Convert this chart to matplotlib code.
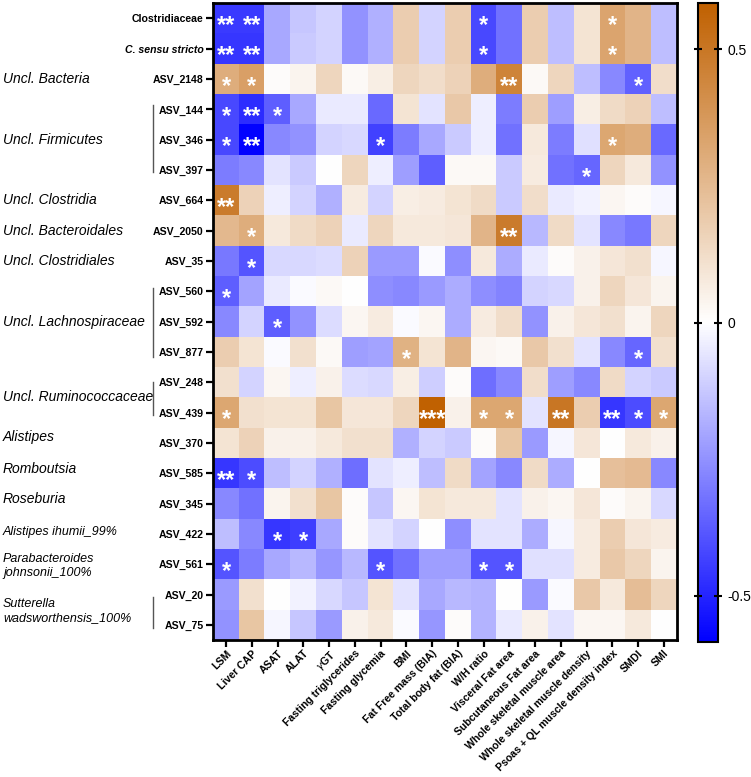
import numpy as np
import matplotlib
matplotlib.use('Agg')
import matplotlib.pyplot as plt
from matplotlib.colors import LinearSegmentedColormap
from matplotlib.transforms import blended_transform_factory

plt.rcParams['font.family'] = ['Liberation Sans', 'DejaVu Sans']

# heatmap rows (taxa / ASVs) and columns (clinical parameters)
rows = ['Clostridiaceae', 'C. sensu stricto', 'ASV_2148', 'ASV_144', 'ASV_346',
        'ASV_397', 'ASV_664', 'ASV_2050', 'ASV_35', 'ASV_560', 'ASV_592',
        'ASV_877', 'ASV_248', 'ASV_439', 'ASV_370', 'ASV_585', 'ASV_345',
        'ASV_422', 'ASV_561', 'ASV_20', 'ASV_75']

columns = ['LSM', 'Liver CAP', 'ASAT', 'ALAT', r'$\gamma$GT',
           'Fasting triglycerides', 'Fasting glycemia', 'BMI',
           'Fat Free mass (BIA)', 'Total body fat (BIA)', 'W/H ratio',
           'Visceral Fat area', 'Subcutaneous Fat area',
           'Whole skeletal muscle area', 'Whole skeletal muscle density',
           'Psoas + QL muscle density index', 'SMDI', 'SMI']

# correlation coefficients, one list per row
rho = [
    [-0.45, -0.45, -0.20, -0.13, -0.10, -0.25, -0.18, 0.18, -0.10, 0.18, -0.42, -0.32, 0.18, -0.15, 0.10, 0.33, 0.27, -0.15],
    [-0.46, -0.46, -0.20, -0.12, -0.10, -0.25, -0.18, 0.18, -0.10, 0.18, -0.42, -0.32, 0.18, -0.15, 0.10, 0.33, 0.27, -0.15],
    [0.30, 0.35, 0.01, 0.04, 0.15, 0.02, 0.06, 0.15, 0.12, 0.16, 0.30, 0.45, 0.02, 0.15, -0.15, -0.27, -0.36, 0.12],
    [-0.42, -0.48, -0.37, -0.20, -0.05, -0.05, -0.34, 0.10, -0.06, 0.20, -0.04, -0.30, 0.18, -0.22, 0.06, 0.13, 0.16, -0.15],
    [-0.42, -0.58, -0.27, -0.25, -0.10, -0.09, -0.43, -0.30, -0.20, -0.12, -0.04, -0.32, 0.08, -0.30, -0.07, 0.32, 0.30, -0.34],
    [-0.30, -0.27, -0.06, -0.12, 0.00, 0.15, -0.04, -0.22, -0.37, 0.02, 0.02, -0.12, 0.07, -0.32, -0.35, 0.15, 0.08, -0.25],
    [0.48, 0.16, -0.04, -0.10, -0.18, 0.07, -0.10, 0.06, 0.07, 0.10, 0.13, -0.12, 0.12, -0.05, -0.03, 0.03, 0.01, -0.02],
    [0.26, 0.30, 0.08, 0.13, 0.16, -0.05, 0.15, 0.08, 0.08, 0.09, 0.27, 0.48, -0.16, 0.13, -0.06, -0.27, -0.31, 0.15],
    [-0.31, -0.39, -0.09, -0.09, -0.08, 0.16, -0.23, -0.23, -0.01, -0.26, 0.08, -0.19, -0.05, 0.01, 0.05, 0.09, 0.11, -0.02],
    [-0.37, -0.21, -0.05, -0.01, 0.02, 0.00, -0.26, -0.27, -0.23, -0.19, -0.26, -0.28, -0.10, -0.09, 0.05, 0.15, 0.09, 0.04],
    [-0.27, -0.10, -0.37, -0.25, -0.08, 0.03, 0.07, -0.01, 0.03, -0.19, 0.07, 0.12, -0.25, 0.05, 0.09, 0.11, 0.04, 0.15],
    [0.18, 0.10, -0.01, 0.11, 0.02, -0.22, -0.21, 0.28, 0.10, 0.27, 0.03, 0.02, 0.20, 0.11, -0.06, -0.27, -0.35, 0.11],
    [0.11, -0.10, 0.03, -0.04, 0.05, -0.08, -0.09, 0.06, -0.11, 0.01, -0.33, -0.27, 0.12, -0.22, -0.27, 0.13, -0.10, -0.12],
    [0.32, 0.11, 0.10, 0.10, 0.21, 0.09, 0.09, 0.15, 0.58, 0.05, 0.32, 0.32, -0.06, 0.50, 0.18, -0.46, -0.41, 0.32],
    [0.10, 0.16, 0.05, 0.05, 0.08, 0.11, 0.11, -0.18, -0.10, -0.12, 0.01, 0.21, -0.23, -0.02, 0.09, 0.00, 0.08, 0.05],
    [-0.46, -0.41, -0.15, -0.10, -0.18, -0.33, -0.06, -0.04, -0.15, 0.13, -0.21, -0.27, 0.13, -0.19, 0.00, 0.23, 0.25, -0.27],
    [-0.27, -0.32, 0.04, 0.11, 0.21, 0.01, -0.13, 0.03, 0.10, 0.08, 0.08, -0.06, 0.05, 0.03, 0.09, 0.01, 0.04, -0.09],
    [-0.15, -0.27, -0.46, -0.44, -0.20, 0.01, -0.06, -0.10, 0.00, -0.26, -0.06, -0.06, -0.19, -0.02, 0.07, 0.18, 0.09, 0.07],
    [-0.39, -0.30, -0.20, -0.16, -0.24, -0.16, -0.39, -0.32, -0.22, -0.22, -0.39, -0.39, -0.07, -0.07, 0.07, 0.20, 0.15, 0.04],
    [-0.23, 0.11, 0.00, -0.03, -0.09, -0.13, 0.10, -0.06, -0.20, -0.16, -0.17, 0.00, -0.23, -0.01, 0.20, 0.08, 0.24, 0.15],
    [-0.25, 0.21, -0.02, -0.13, -0.23, 0.05, 0.08, -0.01, -0.24, 0.01, -0.17, -0.05, 0.05, -0.06, 0.03, 0.03, 0.08, 0.00],
]

# significance marks: (row, column, stars)
stars = [
    (0, 0, '**'), (0, 1, '**'), (0, 10, '*'), (0, 15, '*'),
    (1, 0, '**'), (1, 1, '**'), (1, 10, '*'), (1, 15, '*'),
    (2, 0, '*'), (2, 1, '*'), (2, 11, '**'), (2, 16, '*'),
    (3, 0, '*'), (3, 1, '**'), (3, 2, '*'),
    (4, 0, '*'), (4, 1, '**'), (4, 6, '*'), (4, 15, '*'),
    (5, 14, '*'),
    (6, 0, '**'),
    (7, 1, '*'), (7, 11, '**'),
    (8, 1, '*'),
    (9, 0, '*'),
    (10, 2, '*'),
    (11, 7, '*'), (11, 16, '*'),
    (13, 0, '*'), (13, 8, '***'), (13, 10, '*'), (13, 11, '*'),
    (13, 13, '**'), (13, 15, '**'), (13, 16, '*'), (13, 17, '*'),
    (15, 0, '**'), (15, 1, '*'),
    (17, 2, '*'), (17, 3, '*'),
    (18, 0, '*'), (18, 6, '*'), (18, 10, '*'), (18, 11, '*'),
]

# taxonomic group labels on the left: (text, row position, font size)
groups = [
    ('Uncl. Bacteria', 2.0, 10), ('Uncl. Firmicutes', 4.0, 10),
    ('Uncl. Clostridia', 6.0, 10), ('Uncl. Bacteroidales', 7.0, 10),
    ('Uncl. Clostridiales', 8.0, 10), ('Uncl. Lachnospiraceae', 10.0, 10),
    ('Uncl. Ruminococcaceae', 12.5, 10), ('Alistipes', 13.8, 10),
    ('Romboutsia', 14.85, 10), ('Roseburia', 15.85, 10),
    ('Alistipes ihumii_99%', 16.95, 9),
    ('Parabacteroides\njohnsonii_100%', 18.05, 9),
    ('Sutterella\nwadsworthensis_100%', 19.55, 9),
]
# bracket lines spanning grouped ASVs (row start, row end)
brackets = [(2.85, 5.06), (8.88, 11.16), (12.0, 13.08), (19.07, 20.1)]

vlim = 0.585
cmap = LinearSegmentedColormap.from_list(
    'rho', [(0.0, (0, 0, 1)), (0.5, (1, 1, 1)), (1.0, (0.753, 0.376, 0.0))])

W, H = 751, 777
fig = plt.figure(figsize=(W / 100, H / 100), dpi=100)
ax = fig.add_axes([213.3 / W, 1 - 640 / H, 463.4 / W, 636.7 / H])
cax = fig.add_axes([697.5 / W, 1 - 642 / H, 20.5 / W, 639 / H])

data = np.array(rho)
im = ax.imshow(data, cmap=cmap, vmin=-vlim, vmax=vlim, aspect='auto',
               interpolation='nearest')

for r, c, s in stars:
    ax.text(c, r + 0.45, s, color='white', fontsize=17, fontweight='bold',
            ha='center', va='baseline')

ax.set_xticks(range(len(columns)))
ax.set_xticklabels(columns, rotation=45, ha='right', va='top',
                   rotation_mode='anchor', fontsize=7.6, fontweight='bold')
ax.set_yticks(range(len(rows)))
ylabels = ax.set_yticklabels(rows, fontsize=7.6, fontweight='bold')
ylabels[1].set_fontstyle('italic')
ax.tick_params(axis='both', length=5, width=1.6, pad=2)
ax.tick_params(axis='x', pad=1)
for sp in ax.spines.values():
    sp.set_linewidth(2.0)

trans = blended_transform_factory(fig.transFigure, ax.transData)
for text, y, fs in groups:
    fig.text(3 / W, y, text, transform=trans, fontsize=fs, fontstyle='italic',
             ha='left', va='center', linespacing=1.2)
for y0, y1 in brackets:
    ax.plot([153 / W, 153 / W], [y0, y1], transform=trans, color='#555555',
            lw=1.0, clip_on=False)

cb = fig.colorbar(im, cax=cax, ticks=[-0.5, 0, 0.5])
cb.ax.set_yticklabels(['-0.5', '0', '0.5'])
cb.ax.tick_params(direction='inout', length=6, width=1.5, left=True,
                  right=True, labelsize=10, pad=4)
cb.outline.set_linewidth(1.5)

fig.savefig('out.png', dpi=100)
